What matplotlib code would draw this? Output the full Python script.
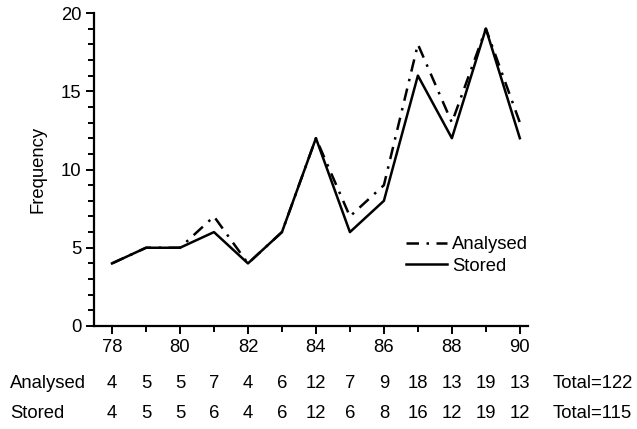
import matplotlib.pyplot as plt
import matplotlib as mpl
from matplotlib.ticker import MultipleLocator

mpl.rcParams.update({"font.family": ["Liberation Sans", "DejaVu Sans"], "font.size": 13.3})

years = [78, 79, 80, 81, 82, 83, 84, 85, 86, 87, 88, 89, 90]
analysed = [4, 5, 5, 7, 4, 6, 12, 7, 9, 18, 13, 19, 13]
stored = [4, 5, 5, 6, 4, 6, 12, 6, 8, 16, 12, 19, 12]
total_analysed = 122
total_stored = 115

fig = plt.figure(figsize=(6.37, 4.29), dpi=100)
ax = fig.add_axes([94 / 637, 1 - 326 / 429, 434 / 637, 313 / 429])

ax.plot(years, analysed, color="black", lw=1.8, linestyle=(0, (5, 3, 1, 3)), label="Analysed")
ax.plot(years, stored, color="black", lw=1.8, label="Stored")

ax.set_xlim(77.47, 90.24)
ax.set_ylim(0, 20)
ax.spines["top"].set_visible(False)
ax.spines["right"].set_visible(False)
ax.spines["left"].set_linewidth(1.6)
ax.spines["bottom"].set_linewidth(1.6)
ax.set_xticks(range(78, 91, 2))
ax.xaxis.set_minor_locator(MultipleLocator(1))
ax.yaxis.set_major_locator(MultipleLocator(5))
ax.yaxis.set_minor_locator(MultipleLocator(1))
ax.tick_params(which="both", direction="out", width=1.4)
ax.tick_params(which="major", length=6, pad=3)
ax.tick_params(which="minor", length=4)
ax.set_ylabel("Frequency", labelpad=10)

fig.legend(*ax.get_legend_handles_labels(), loc="upper left",
           bbox_to_anchor=(406 / 637, 1 - 236 / 429), frameon=False, borderpad=0,
           handlelength=2.2, handletextpad=0.3, labelspacing=0.25, borderaxespad=0)

# table of values under the axis
for row_y, name, vals, tot in [(384, "Analysed", analysed, total_analysed),
                               (414, "Stored", stored, total_stored)]:
    fy = 1 - row_y / 429
    fig.text(10 / 637, fy, name, ha="left", va="center")
    for yr, v in zip(years, vals):
        xd = ax.transData.transform((yr, 0))[0]
        fig.text(xd / 637, fy, str(v), ha="center", va="center")
    fig.text(553 / 637, fy, f"Total={tot}", ha="left", va="center")

fig.savefig("out.png", dpi=100)
